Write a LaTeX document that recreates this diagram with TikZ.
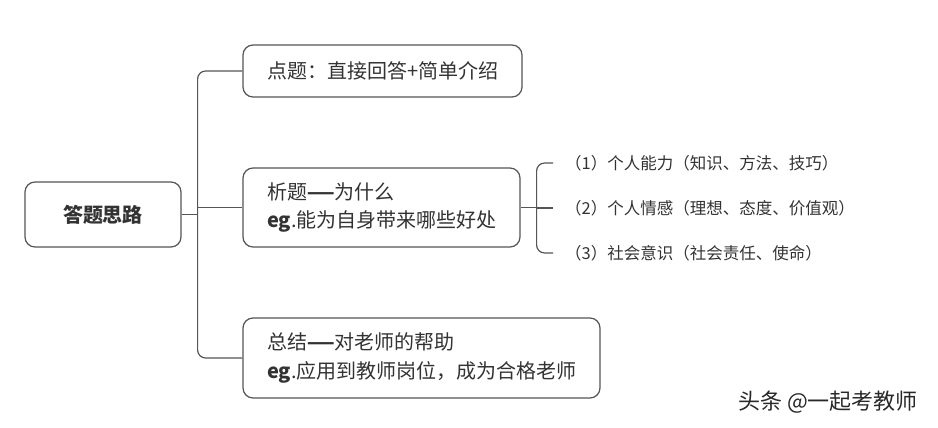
\documentclass[tikz,border=0pt]{standalone}
\usepackage{fontspec}
\setmainfont{Noto Sans CJK SC}
\definecolor{txt}{HTML}{333333}
\definecolor{ln}{HTML}{555555}
\newcommand{\bigdash}{\scalebox{0.8}[1]{\bfseries ——}}
\begin{document}
\begin{tikzpicture}[x=1pt,y=-1pt,
  box/.style={draw=ln, line width=1.2pt, rounded corners=10pt, text=txt,
    inner xsep=24pt, inner ysep=0pt, align=left},
  conn/.style={draw=ln, line width=1.2pt},
  item/.style={anchor=west, inner sep=0pt, text=txt, font=\fontsize{16.5}{20}\selectfont}
]
\useasboundingbox (0,0) rectangle (938,428);
\fill[white] (0,0) rectangle (938,428);

\node[draw=ln, line width=1.2pt, rounded corners=10pt, text=txt,
  minimum width=156pt, minimum height=65pt, inner sep=0pt,
  font=\fontsize{20}{24}\selectfont\bfseries] (root) at (103,214.5) {答题思路};

\node[box, minimum height=52pt, text width=231pt, font=\fontsize{20}{24}\selectfont]
  (b1) at (382.5,71) {点题：直接回答+简单介绍};

\node[box, minimum height=79pt, text width=229pt, font=\fontsize{20}{28}\selectfont]
  (b2) at (381.5,207.5) {析题\bigdash 为什么\\{\bfseries eg}.能为自身带来哪些好处};

\node[box, minimum height=80pt, text width=309pt, font=\fontsize{20}{29}\selectfont]
  (b3) at (421.5,358) {总结\bigdash 对老师的帮助\\{\bfseries eg}.应用到教师岗位，成为合格老师};

\node[item] (i1) at (565,163) {（1）个人能力（知识、方法、技巧）};
\node[item] (i2) at (565,208) {（2）个人情感（理想、态度、价值观）};
\node[item] (i3) at (565,253) {（3）社会意识（社会责任、使命）};

\node[text=txt!80!black, font=\fontsize{22}{26}\selectfont, inner sep=0pt]
  (wm) at (828,402) {头条 @一起考教师};

% trunk
\draw[conn] (root.east) -- ++(16,0) coordinate (j);
\draw[conn, rounded corners=8pt] (b1.west) -| (j) |- (b3.west);
\draw[conn] (b2.west) -- (b2.west -| j);

% bracket
\draw[conn] (b2.east) -- ++(16,0) coordinate (k);
\draw[conn, rounded corners=8pt] ([xshift=-12pt]i1.west) -| (k) |- ([xshift=-12pt]i3.west);
\draw[conn] (k |- i2.west) -- ([xshift=-12pt]i2.west);
\end{tikzpicture}
\end{document}
